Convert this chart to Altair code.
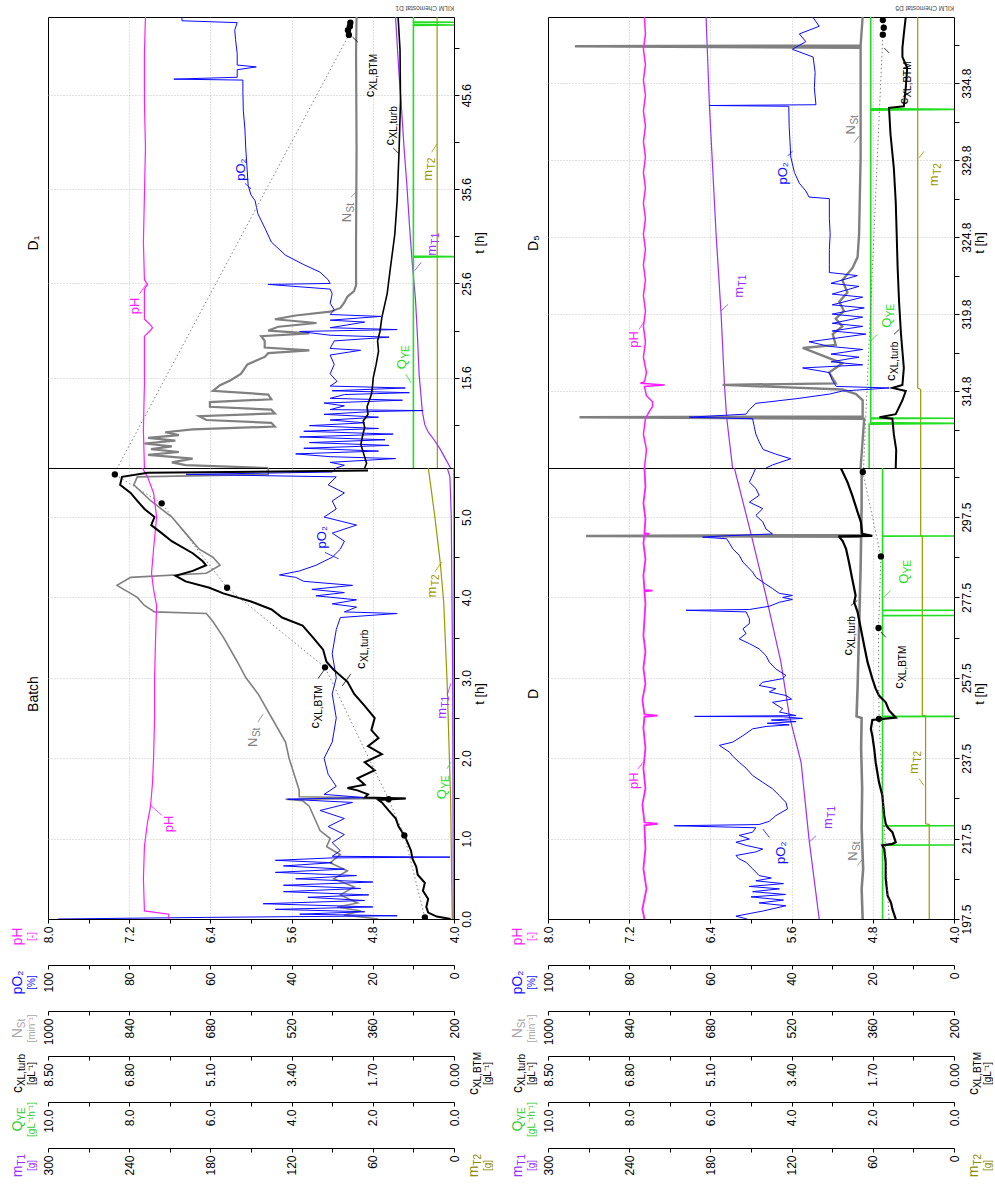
import json
import altair as alt
import pandas as pd

# ------------------------------------------------------------------
# Values: (t [h], value in the series' own unit)
# ------------------------------------------------------------------
# ---- Batch ----
B_PH = [(0.0, 6.81), (0.06, 6.81), (0.1, 7.05), (0.5, 7.06), (0.9, 7.05), (1.2, 7.02), (1.4, 6.99), (1.7, 6.97),
        (2.0, 6.96), (2.5, 6.95), (3.0, 6.95), (3.5, 6.94), (3.9, 6.93), (4.1, 6.96), (4.3, 6.98), (4.6, 6.96),
        (5.0, 6.93), (5.3, 6.96), (5.5, 7.02), (5.61, 7.07)]
B_PO2 = [(0.0, 97.5), (0.02, 61), (0.04, 14), (0.06, 38), (0.09, 22), (0.12, 44), (0.15, 20), (0.19, 47), (0.23, 22),
         (0.27, 36), (0.30, 21), (0.34, 42), (0.38, 23), (0.42, 42), (0.46, 20), (0.50, 39), (0.54, 24), (0.58, 44),
         (0.62, 27), (0.66, 42), (0.70, 30), (0.73, 44), (0.76, 30), (0.77, 1), (0.78, 30), (0.85, 28), (0.95, 30),
         (1.05, 27), (1.15, 31), (1.25, 27), (1.35, 33), (1.45, 25), (1.49, 41), (1.51, 22), (1.55, 32), (1.65, 29),
         (1.8, 31), (2.0, 32), (2.2, 30), (2.5, 29), (2.8, 30), (3.0, 29), (3.3, 30), (3.6, 29), (3.75, 28),
         (3.80, 14), (3.82, 27), (3.88, 24), (3.92, 30), (3.97, 24), (4.02, 34), (4.06, 27), (4.10, 35), (4.15, 25),
         (4.20, 37), (4.25, 39), (4.28, 43), (4.33, 38), (4.4, 34), (4.5, 30), (4.6, 28), (4.7, 27), (4.8, 30),
         (4.9, 24), (5.0, 32), (5.1, 29), (5.2, 30), (5.3, 27), (5.4, 31), (5.5, 29), (5.53, 66), (5.56, 30),
         (5.61, 29)]
B_NST = [(0.0, 349), (0.05, 417), (0.1, 383), (0.15, 430), (0.2, 390), (0.3, 424), (0.4, 397), (0.5, 437),
         (0.6, 410), (0.7, 444), (0.8, 424), (0.9, 451), (1.0, 444), (1.1, 464), (1.2, 471), (1.3, 478), (1.4, 485),
         (1.47, 498), (1.49, 532), (1.5, 295), (1.52, 505), (1.6, 505), (1.8, 515), (2.0, 525), (2.2, 532),
         (2.5, 559), (2.8, 586), (3.0, 610), (3.2, 627), (3.5, 654), (3.7, 675), (3.8, 688), (3.82, 790),
         (3.9, 810), (4.0, 824), (4.05, 837), (4.1, 851), (4.15, 864), (4.25, 837), (4.3, 688), (4.4, 661),
         (4.5, 675), (4.6, 702), (4.8, 729), (5.0, 756), (5.2, 797), (5.4, 831), (5.5, 824), (5.53, 566),
         (5.61, 566)]
B_CXL = [(0.0, 0.07), (0.03, 0.36), (0.08, 0.54), (0.15, 0.58), (0.25, 0.54), (0.35, 0.65), (0.45, 0.61),
         (0.55, 0.76), (0.65, 0.79), (0.75, 0.87), (0.85, 0.90), (0.95, 0.97), (1.05, 1.05), (1.15, 1.16),
         (1.25, 1.22), (1.35, 1.37), (1.45, 1.51), (1.48, 1.58), (1.50, 1.01), (1.51, 1.87), (1.55, 1.80),
         (1.60, 2.02), (1.63, 2.23), (1.67, 1.87), (1.75, 2.02), (1.85, 1.66), (1.95, 1.87), (2.05, 1.51),
         (2.15, 1.80), (2.25, 1.58), (2.35, 1.73), (2.5, 1.66), (2.65, 1.87), (2.8, 2.09), (2.95, 2.23),
         (3.1, 2.52), (3.2, 2.67), (3.35, 2.74), (3.5, 2.95), (3.65, 3.17), (3.75, 3.60), (3.85, 3.82),
         (3.95, 4.25), (4.05, 4.83), (4.12, 5.12), (4.2, 5.62), (4.27, 5.83), (4.33, 5.47), (4.4, 5.19),
         (4.45, 5.26), (4.55, 5.47), (4.7, 5.91), (4.8, 6.12), (4.9, 6.34), (5.0, 6.27), (5.1, 6.48), (5.2, 6.63),
         (5.3, 6.77), (5.4, 6.99), (5.5, 6.95), (5.55, 6.41), (5.58, 1.80)]
B_BTM = [(0.02, 0.61), (1.04, 1.04), (1.49, 1.37), (3.13, 2.70), (4.12, 4.75), (5.17, 6.12), (5.53, 7.10)]
B_BTM_LINE = [(0.02, 0.61), (1.04, 1.04), (1.49, 1.37), (3.13, 2.70), (4.12, 4.75), (5.17, 6.12), (5.53, 7.10)]
B_QYE = [(0.0, 0.0), (5.61, 0.0)]
B_MT1 = [(0.0, 0.5), (3.0, 1.0), (5.0, 2.0), (5.5, 3.0), (5.61, 5.0)]
B_MT2 = [(0.0, 1.3), (1.5, 2.5), (2.95, 5.1), (3.94, 7.6), (4.44, 10.2), (4.98, 14.0), (5.3, 16.5), (5.61, 19.0)]

# ---- D1 ----
D1_PH = [(6.0, 7.05), (10.0, 7.06), (15.0, 7.05), (20.0, 7.05), (20.5, 7.00), (20.9, 6.97), (21.3, 7.00),
         (21.8, 7.05), (25.0, 7.05), (25.5, 7.02), (26.0, 7.05), (30.0, 7.06), (35.0, 7.05), (40.0, 7.04),
         (45.0, 7.05), (50.0, 7.05), (53.9, 7.04)]
D1_PO2 = [(6.0, 29), (6.3, 27), (6.6, 30.5), (7.0, 14.4), (7.2, 30.5), (7.5, 39), (7.8, 18.6), (8.1, 37), (8.4, 16),
          (8.7, 35.6), (9.0, 17), (9.3, 38), (9.6, 15), (9.9, 37), (10.2, 18.6), (10.5, 35.6), (10.8, 22),
          (11.1, 30.5), (11.4, 18.6), (11.7, 32), (12.0, 20), (12.1, 7.6), (12.2, 30.5), (12.6, 27), (12.9, 32),
          (13.2, 12.7), (13.4, 30.5), (13.8, 27), (14.0, 11), (14.2, 30), (14.5, 12), (14.7, 30.5), (15.2, 28.8),
          (16.0, 30.5), (17.0, 29.5), (18.0, 30.5), (18.5, 23), (18.7, 30.5), (19.5, 29.5), (19.9, 16),
          (20.1, 30.5), (20.5, 38), (20.7, 14), (20.9, 30.5), (21.5, 22), (21.7, 30.5), (22.1, 18), (22.3, 30.5),
          (22.8, 29.5), (23.5, 30.5), (24.5, 30), (25.0, 30.5), (25.5, 45.8), (25.6, 30.5), (26.0, 31),
          (26.8, 33), (27.6, 37), (28.6, 41.5), (30.0, 45), (31.5, 46.6), (33.0, 48.3), (34.4, 49), (35.0, 50),
          (36.0, 50.7), (38.0, 51), (40.0, 51.3), (42.0, 51.5), (44.0, 51.9), (46.0, 52), (47.2, 52), (47.3, 69),
          (47.5, 53.4), (48.3, 53.4), (48.6, 48.7), (48.8, 53.4), (50.0, 53.4), (51.5, 53.8), (52.5, 54),
          (53.3, 53.4), (53.5, 67), (53.9, 67)]
D1_NST = [(6.0, 566), (6.3, 729), (6.6, 756), (7.0, 715), (7.4, 803), (7.7, 742), (8.0, 797), (8.3, 756),
          (8.6, 810), (8.9, 749), (9.2, 803), (9.5, 742), (9.8, 769), (10.1, 715), (10.4, 553), (10.8, 560),
          (11.1, 688), (11.5, 702), (11.8, 553), (12.2, 560), (12.5, 681), (13.0, 681), (13.3, 560), (13.8, 566),
          (14.2, 675), (14.8, 661), (15.3, 641), (16.0, 620), (17.0, 607), (17.8, 573), (18.2, 566), (18.5, 485),
          (18.8, 573), (19.5, 573), (20.0, 580), (20.3, 485), (20.6, 566), (21.0, 546), (21.4, 471), (21.8, 553),
          (22.2, 512), (22.6, 444), (23.0, 424), (23.5, 417), (24.2, 410), (24.8, 397), (25.4, 393), (30.0, 393),
          (40.0, 392), (50.0, 393), (53.9, 392)]
D1_CXL = [(6.0, 1.87), (6.5, 1.83), (7.5, 1.89), (8.5, 1.95), (9.5, 1.91), (10.3, 1.87), (11.0, 1.90), (11.7, 1.80),
          (12.5, 1.82), (13.8, 1.73), (14.5, 1.71), (15.6, 1.69), (17.0, 1.63), (18.4, 1.58), (19.5, 1.60),
          (20.5, 1.55), (22.0, 1.51), (24.5, 1.40), (27.3, 1.33), (30.8, 1.24), (34.4, 1.19), (39.7, 1.15),
          (45.0, 1.12), (50.4, 1.13), (53.9, 1.17)]
D1_BTM = [(52.0, 2.20), (52.5, 2.22), (52.9, 2.18), (53.3, 2.17)]
D1_BTM_LINE = [(5.53, 7.10), (52.0, 2.20), (52.5, 2.22), (52.9, 2.18), (53.3, 2.17)]
D1_QYE = [(6.0, 1.0), (28.4, 1.0), (28.45, 0.0), (28.5, 1.0), (53.0, 1.0), (53.05, 0.0), (53.1, 1.0), (53.3, 1.0),
          (53.35, 0.0), (53.4, 1.0), (53.9, 1.0)]
D1_MT1 = [(6.0, 2.5), (7.0, 6.4), (8.0, 10.2), (9.0, 14.7), (9.8, 19.0), (10.6, 21.6), (12.0, 23.4), (14.0, 24.6),
          (16.0, 25.8), (20.0, 27.0), (24.0, 28.5), (28.0, 31.0), (32.0, 33.0), (36.0, 34.8), (40.0, 36.9),
          (44.0, 38.7), (48.0, 40.7), (53.9, 43.2)]
D1_MT2 = [(6.0, 12.3), (30.0, 12.4), (53.9, 12.5)]

# ---- D ----
D_PH = [(197.5, 7.05), (200, 7.07), (205, 7.03), (210, 7.06), (215, 7.04), (220.8, 7.05), (221.2, 6.92),
        (221.5, 7.05), (226, 7.07), (230, 7.04), (235, 7.06), (240, 7.04), (245, 7.06), (247.8, 7.05),
        (248.1, 6.92), (248.4, 7.05), (252, 7.07), (256, 7.04), (260, 7.06), (264, 7.04), (268, 7.06), (272, 7.05),
        (276, 7.04), (279.0, 7.05), (279.2, 6.97), (279.4, 7.05), (283, 7.06), (287, 7.04), (291, 7.06),
        (293.1, 7.05), (293.3, 7.0), (293.5, 7.05), (297, 7.04), (301, 7.06), (305, 7.04), (309.7, 7.05)]
D_PO2 = [(197.5, 51), (198.2, 53.7), (199.5, 47), (200.8, 41.4), (201.5, 48), (202.2, 42), (203, 50), (203.6, 41.5),
         (204.3, 49.6), (205, 43), (205.6, 50.4), (206.3, 42), (207, 48.8), (207.7, 45), (208.3, 48), (210, 49.6),
         (211.6, 51.2), (212.5, 53), (213.3, 53.7), (214.2, 48.8), (214.9, 47.1), (215.8, 51.2), (216.6, 53.7),
         (217.4, 50.4), (218.3, 52.9), (219.1, 49.6), (220.2, 48.8), (220.7, 68.9), (221.0, 48), (221.8, 45.5),
         (223.2, 43.9), (224.9, 41), (226.5, 41.4), (228.2, 43), (229.9, 44.7), (231.5, 47.1), (233.2, 49.6),
         (235, 51.2), (236.5, 52.9), (238, 54.5), (239, 55.3), (240.7, 57.8), (241.5, 54.5), (243.1, 52),
         (244.8, 49.6), (245.4, 46.3), (245.8, 40.6), (246.2, 46), (246.6, 38.9), (247.0, 45), (247.4, 37.3),
         (247.8, 42), (247.9, 63.9), (248.1, 38.9), (249, 43), (249.8, 42.2), (251.4, 44.7), (252.2, 40),
         (253.1, 41.4), (254, 45.5), (254.8, 43.9), (255.6, 48), (256.4, 47.1), (257.3, 42.2), (258.1, 41.4),
         (259.7, 43.9), (261.4, 45.5), (263, 46.3), (264.7, 48), (266, 50.4), (267.2, 52.9), (268.5, 51.2),
         (269.7, 52), (271, 50.4), (272.2, 50.4), (273.9, 51.2), (274.3, 66), (274.5, 50.4), (275.3, 45.5),
         (276.3, 43), (277, 39.8), (277.5, 42.2), (278, 39.8), (278.5, 43), (279.7, 44.7), (281.3, 47.1),
         (282.5, 48.8), (283.8, 49.6), (286.3, 52), (288, 52.9), (289.6, 54.5), (291, 55.3), (292.1, 56),
         (292.5, 61.9), (292.8, 57), (293.3, 44.7), (294.5, 46.3), (296.3, 47.1), (297.9, 48.8), (299.6, 47.1),
         (301.2, 50.4), (302.9, 48), (304.6, 48.8), (306.2, 50.4), (307.9, 49.6), (309.7, 48.8)]
D_NST = [(197.5, 380), (205, 382), (210, 379), (220, 382), (230, 381), (240, 383), (247.5, 382), (247.9, 392),
         (255, 390), (265, 388), (275, 386), (285, 384), (292.6, 383), (292.8, 925), (293.0, 383), (300, 382),
         (309.7, 382)]
D_CXL = [(197.5, 1.22), (200.0, 1.29), (201.6, 1.32), (203.3, 1.39), (207.5, 1.43), (211.6, 1.43), (214.9, 1.46),
         (215.8, 1.50), (216.2, 1.29), (216.6, 1.22), (219.1, 1.29), (220.3, 1.39), (221.2, 1.43), (223.2, 1.46),
         (228.2, 1.50), (231.5, 1.57), (236.5, 1.64), (239.8, 1.67), (243.1, 1.71), (244.8, 1.74), (247.0, 1.71),
         (247.6, 1.22), (248.5, 1.29), (249.4, 1.36), (251.4, 1.43), (253.1, 1.57), (254.8, 1.64), (257.3, 1.71),
         (261.4, 1.81), (265.5, 1.88), (269.7, 1.95), (273.9, 2.02), (276.3, 2.09), (278.0, 2.06), (282.1, 2.13),
         (286.3, 2.20), (289.6, 2.26), (291.5, 2.33), (292.5, 2.40), (292.7, 2.40), (292.8, 1.71), (293.3, 1.92),
         (296.3, 1.95), (298.8, 2.02), (302.9, 2.13), (306.2, 2.23), (309.7, 2.37)]
D_BTM = [(247.3, 1.57), (269.9, 1.58), (287.7, 1.53), (308.7, 1.91)]
D_BTM_LINE = [(197.5, 1.36), (247.3, 1.57), (269.9, 1.58), (287.7, 1.53), (308.7, 1.91)]
D_QYE = [(197.5, 1.76), (215.85, 1.76), (215.9, 0.0), (215.95, 1.76), (220.65, 1.76), (220.7, 0.0), (220.75, 1.76),
         (247.85, 1.76), (247.9, 0.0), (247.95, 1.76), (272.95, 1.76), (273.0, 0.0), (273.05, 1.76),
         (274.25, 1.76), (274.3, 0.0), (274.35, 1.76), (292.75, 1.76), (292.8, 0.0), (292.85, 1.76),
         (309.7, 1.76)]
D_MT1 = [(197.5, 99.6), (217.0, 107.0), (236.5, 113.0), (248.1, 121.7), (261.4, 127.9), (278.0, 139.0),
         (293.3, 150.0), (309.7, 162.3)]
D_MT2 = [(197.5, 18.3), (221.0, 18.3), (221.2, 21.0), (248.0, 21.0), (248.2, 23.4), (292.7, 23.4), (292.9, 24.6),
         (309.7, 24.6)]

# ---- D5 ----
D5_PH = [(309.8, 7.05), (311.0, 7.03), (312.0, 7.06), (313.0, 7.04), (313.5, 7.00), (313.8, 6.97), (314.1, 6.97),
         (314.5, 7.03), (315.1, 7.05), (315.2, 6.85), (315.3, 7.09), (315.4, 7.05), (316.0, 7.03), (317.0, 7.06),
         (318.0, 7.04), (319.0, 7.06), (320.0, 7.04), (321.0, 7.06), (322.0, 7.04), (323.0, 7.06), (324.0, 7.04),
         (325.0, 7.06), (326.0, 7.04), (327.0, 7.06), (328.0, 7.04), (329.0, 7.06), (330.0, 7.04), (331.0, 7.06),
         (332.0, 7.04), (333.0, 7.06), (334.0, 7.04), (335.0, 7.06), (336.0, 7.04), (337.0, 7.06), (338.0, 7.04),
         (339.1, 7.05)]
D5_PO2 = [(309.8, 46.3), (310.0, 44.7), (310.4, 40.2), (310.7, 43.9), (311.0, 47.0), (311.5, 48.0), (312.0, 48.8),
          (312.5, 49.2), (313.0, 49.6), (313.1, 65.2), (313.3, 51.2), (313.6, 50.4), (314.0, 48.8), (314.3, 38.9),
          (314.6, 30.7), (314.8, 27.5), (315.0, 16.0), (315.1, 29.0), (315.5, 30.0), (316.0, 30.7), (316.3, 37.3),
          (316.5, 22.5), (316.7, 30.3), (317.0, 23.4), (317.2, 30.3), (317.5, 22.5), (317.7, 30.7), (318.0, 35.7),
          (318.2, 30.0), (318.5, 21.7), (318.7, 30.0), (319.0, 22.5), (319.2, 30.0), (319.6, 22.5), (319.8, 30.0),
          (320.2, 22.1), (320.4, 30.0), (320.9, 22.5), (321.1, 30.0), (321.6, 23.4), (321.8, 30.3), (322.3, 23.8),
          (322.5, 30.7), (323.0, 30.7), (324.0, 30.7), (325.0, 30.5), (326.0, 30.7), (327.3, 30.7), (327.4, 35.7),
          (327.8, 36.5), (328.3, 38.1), (329.0, 39.3), (330.0, 40.2), (331.0, 40.4), (332.0, 40.6), (333.3, 40.7),
          (333.35, 60.2), (333.4, 34.0), (334.5, 34.4), (335.5, 34.2), (336.5, 34.7), (337.0, 39.8), (337.5, 36.5),
          (338.0, 38.1), (338.5, 33.2), (339.1, 34.8)]
D5_NST = [(309.8, 384), (313.0, 377), (313.1, 938), (313.15, 380), (314.2, 380), (314.6, 393), (314.9, 420),
          (315.2, 656), (315.3, 433), (316.0, 446), (316.6, 420), (317.6, 498), (317.8, 433), (318.5, 439),
          (319.0, 420), (319.5, 433), (320.0, 417), (320.6, 426), (321.2, 410), (322.0, 420), (322.8, 400),
          (323.5, 390), (325.0, 387), (330.0, 384), (337.1, 384), (337.2, 947), (337.25, 384), (339.1, 380)]
D5_CXL = [(309.8, 1.22), (311.0, 1.21), (312.0, 1.26), (313.0, 1.29), (313.1, 1.56), (313.3, 1.22), (314.2, 1.08),
          (314.8, 1.01), (315.0, 1.29), (315.2, 1.08), (316.3, 1.05), (318.5, 1.11), (320.6, 1.15), (322.8, 1.18),
          (325.0, 1.20), (327.1, 1.22), (329.3, 1.26), (331.5, 1.33), (333.2, 1.36), (333.3, 1.05), (334.5, 1.01),
          (335.8, 0.98), (336.5, 1.08), (337.1, 1.08), (338.0, 1.05), (339.1, 1.01)]
D5_BTM = [(337.95, 1.49), (338.4, 1.47), (338.9, 1.49)]
D5_BTM_LINE = [(308.7, 1.91), (337.95, 1.49), (338.4, 1.47), (338.9, 1.49)]
D5_QYE = [(309.8, 2.09), (312.65, 2.09), (312.7, 0.0), (312.75, 2.05), (313.0, 2.05), (313.03, 0.0), (313.06, 2.05),
          (333.05, 2.05), (333.1, 0.0), (333.15, 2.05), (339.1, 2.05)]
D5_MT1 = [(309.8, 163.6), (313.1, 168.0), (315.2, 169.6), (319.8, 172.1), (325.0, 175.8), (333.3, 180.7),
          (339.1, 183.2)]
D5_MT2 = [(309.8, 24.6), (314.9, 24.6), (315.0, 26.8), (339.1, 26.8)]

# ---- in-plot labels: (series, t at label start, position in % of the panel width, 100 = left edge) ----
B_LABELS = [("pH", 1.08, 70.3), ("NSt", 2.14, 49.6), ("cB", 2.37, 34.3), ("cT", 3.11, 22.9), ("pO2", 4.61, 32.6),
            ("QYE", 1.49, 3.0), ("mT1", 2.49, 3.0), ("mT2", 4.0, 5.5)]
B_LEADERS = [("pH", 1.29, 72.0, 1.41, 74.6), ("NSt", 2.45, 48.3, 2.55, 47.0), ("cB", 2.99, 33.5, 3.11, 31.8),
             ("cT", 3.05, 25.4, 2.90, 27.5), ("pO2", 4.56, 31.8, 4.48, 28.4), ("QYE", 1.87, 1.7, 1.95, 0.8),
             ("mT1", 2.78, 1.7, 2.93, 0.8), ("mT2", 4.32, 4.7, 4.44, 3.0)]
D1_LABELS = [("pH", 22.34, 78.6), ("pO2", 36.5, 52.5), ("NSt", 32.09, 26.3), ("cB", 45.39, 20.8),
             ("cT", 40.25, 15.7), ("QYE", 16.49, 12.7), ("mT1", 28.54, 5.5), ("mT2", 36.52, 6.4)]
D1_LEADERS = [("pH", 24.47, 77.5, 25.53, 75.8), ("pO2", 36.24, 51.5, 35.64, 50.0), ("NSt", 34.75, 25.4, 35.28, 24.2),
              ("cB", 51.24, 23.7, 51.77, 25.0), ("cT", 40.0, 15.0, 39.4, 13.6), ("QYE", 15.95, 11.9, 15.07, 10.6),
              ("mT1", 27.83, 8.1, 26.95, 9.7), ("mT2", 39.54, 5.5, 40.42, 4.2)]
D_LABELS = [("pH", 229.86, 78.7), ("pO2", 211.2, 42.6), ("mT1", 219.9, 31.1), ("NSt", 212.0, 25.0),
            ("cT", 263.06, 26.2), ("cB", 254.76, 13.5), ("QYE", 280.9, 12.3), ("mT2", 233.6, 9.8)]
D_LEADERS = [("pH", 234.8, 77.9, 236.5, 76.6), ("pO2", 217.8, 45.5, 219.9, 47.1), ("mT1", 218.2, 34.0, 216.6, 35.7),
             ("NSt", 210.8, 23.8, 212.4, 22.5), ("cT", 275.5, 25.4, 276.75, 23.8), ("cB", 267.6, 16.8, 268.9, 18.0),
             ("QYE", 279.2, 15.6, 277.6, 17.2), ("mT2", 232.4, 8.6, 230.7, 7.4)]
D5_LABELS = [("pH", 317.61, 78.9), ("mT1", 320.86, 52.9), ("pO2", 328.22, 42.2), ("NSt", 331.47, 25.4),
             ("QYE", 318.91, 16.4), ("cT", 315.45, 15.6), ("cB", 333.41, 12.3), ("mT2", 328.11, 4.9)]
D5_LEADERS = [("pH", 318.8, 77.6, 319.35, 76.2), ("mT1", 320.43, 55.7, 320.0, 57.4),
              ("pO2", 330.06, 41.0, 330.38, 39.8), ("NSt", 330.93, 24.6, 331.36, 23.4),
              ("QYE", 318.48, 18.9, 318.05, 20.5), ("cT", 318.48, 14.8, 318.8, 13.5),
              ("cB", 336.77, 16.0, 337.09, 17.2), ("mT2", 329.95, 8.6, 330.38, 7.4)]

# ------------------------------------------------------------------
W = 406
COL = {"pH": "#FF1EFF", "pO2": "#0A0AFF", "NSt": "#808080", "cT": "#000000", "cB": "#000000",
       "QYE": "#22DD22", "mT1": "#9A30FF", "mT2": "#999900"}
SERIES = list(COL.keys())
COLOR = alt.Color("s:N", scale=alt.Scale(domain=SERIES, range=[COL[s] for s in SERIES]), legend=None)
DOM = {"pH": (4.0, 8.0), "pO2": (0, 100), "NSt": (200, 1000), "cXL": (0, 8.5), "QYE": (0, 10), "mT": (0, 300),
       "pct": (0, 100)}
TICKS = {
    "pH": ([round(4.0 + 0.4 * i, 2) for i in range(11)], ".1f"),
    "pO2": ([10 * i for i in range(11)], "d"),
    "NSt": ([200 + 80 * i for i in range(11)], "d"),
    "cXL": ([round(0.85 * i, 2) for i in range(11)], ".2f"),
    "QYE": ([float(i) for i in range(11)], ".1f"),
    "mT": ([30 * i for i in range(11)], "d"),
}
PARTS = {"pH": ("pH", ""), "pO2": ("pO₂", ""), "NSt": ("N", "St"), "cT": ("c", "XL,turb"),
         "cB": ("c", "XL,BTM"), "QYE": ("Q", "YE"), "mT1": ("m", "T1"), "mT2": ("m", "T2")}
GW = {"N": .722, "c": .5, "Q": .778, "m": .833, "S": .667, "t": .278, "X": .667, "L": .556, ",": .278, "u": .556,
      "r": .333, "b": .556, "Y": .667, "E": .667, "T": .611, "1": .556, "2": .556, "B": .667, "M": .833}


def tw(s, size):
    return sum(GW.get(ch, .556) for ch in s) * size


def xs(fam):
    lo, hi = DOM[fam]
    return alt.Scale(domain=[lo, hi], reverse=True, nice=False, zero=False)


def ys(tdom):
    return alt.Scale(domain=list(tdom), nice=False, zero=False)


def frame(pairs):
    return pd.DataFrame({"t": [p[0] for p in pairs], "v": [p[1] for p in pairs], "i": list(range(len(pairs)))})


def value_axis(fam, off):
    vals, fmt = TICKS[fam]
    majors = vals[::2]
    return alt.Axis(orient="bottom", offset=off, values=vals, format=fmt,
                    labelExpr="indexof(%s, datum.value) >= 0 ? datum.label : ''" % json.dumps(majors),
                    labelAngle=270, labelAlign="right", labelBaseline="middle", labelFontSize=12, labelPadding=3,
                    labelFlush=False, labelOverlap=False, labelColor="black", tickSize=4, tickColor="black",
                    domainColor="black", grid=False, title=None)


def time_major(vals):
    return alt.Axis(orient="right", values=vals, format=".1f", labelAngle=270, labelAlign="center",
                    labelBaseline="top", labelFontSize=12, labelPadding=2, labelFlush=False, labelOverlap=False,
                    labelColor="black", tickSize=5, tickColor="black", domain=False, grid=True,
                    gridColor="#b4b4b4", gridDash=[1, 2], gridWidth=0.8, title="t [h]", titleFontSize=13,
                    titleFontWeight="normal", titleAngle=270, titleBaseline="top", titlePadding=1,
                    titleColor="black")


def time_minor(vals):
    return alt.Axis(orient="right", values=vals, labels=False, tickSize=5, tickColor="black", domain=False,
                    grid=False, title=None)


def grid_axis():
    return alt.Axis(orient="bottom", values=[20, 40, 60, 80], labels=False, ticks=False, domain=False, grid=True,
                    gridColor="#b4b4b4", gridDash=[1, 2], gridWidth=0.8, title=None)


def line_layer(pairs, fam, color, tdom, width, xaxis=None, yaxis=None, dash=None):
    props = dict(color=color, strokeWidth=width, clip=True)
    if dash is not None:
        props["strokeDash"] = dash
    return alt.Chart(frame(pairs)).mark_line(**props).encode(
        x=alt.X("v:Q", scale=xs(fam), axis=xaxis),
        y=alt.Y("t:Q", scale=ys(tdom), axis=yaxis),
        order=alt.Order("i:Q"),
    )


def dots_layer(pairs, tdom):
    return alt.Chart(frame(pairs)).mark_circle(size=40, color="black", opacity=1, clip=True).encode(
        x=alt.X("v:Q", scale=xs("cXL"), axis=None),
        y=alt.Y("t:Q", scale=ys(tdom), axis=None),
    )


def leader_layer(leaders, tdom):
    df = pd.DataFrame([dict(s=s, t=a, p=b, t2=c, p2=d) for s, a, b, c, d in leaders])
    return alt.Chart(df).mark_rule(strokeWidth=0.8).encode(
        x=alt.X("p:Q", scale=xs("pct"), axis=None), x2="p2:Q",
        y=alt.Y("t:Q", scale=ys(tdom), axis=None), y2="t2:Q", color=COLOR)


def label_layers(labels, tdom):
    df = pd.DataFrame([dict(s=s, t=t, p=p, main=PARTS[s][0], sub=PARTS[s][1]) for s, t, p in labels])
    out = [alt.Chart(df).mark_text(angle=270, align="left", baseline="middle", fontSize=13).encode(
        x=alt.X("p:Q", scale=xs("pct"), axis=grid_axis()), y=alt.Y("t:Q", scale=ys(tdom), axis=None),
        text="main:N", color=COLOR)]
    for letter in ("N", "c", "Q", "m"):
        sub_df = df[df["main"] == letter]
        if len(sub_df) == 0:
            continue
        out.append(alt.Chart(sub_df).mark_text(angle=270, align="left", baseline="middle", fontSize=10,
                                               dx=tw(letter, 13) + 0.5, dy=4).encode(
            x=alt.X("p:Q", scale=xs("pct"), axis=None), y=alt.Y("t:Q", scale=ys(tdom), axis=None),
            text="sub:N", color=COLOR))
    return out


LEFT_TITLES = [(0, "pH", "pH", "", "[-]"), (46, "pO2", "pO₂", "", "[%]"), (92, "NStT", "N", "St", "[min⁻¹]"),
               (137, "cT", "c", "XL,turb", "[gL⁻¹]"), (183, "QYE", "Q", "YE", "[gL⁻¹h⁻¹]"),
               (229, "mT1", "m", "T1", "[g]")]
RIGHT_TITLES = [(137, "cB", "c", "XL,BTM", "[gL⁻¹]"), (229, "mT2", "m", "T2", "[g]")]
TITLE_COL = {"pH": "#FF1EFF", "pO2": "#1414FF", "NStT": "#A6A6A6", "cT": "#000000", "QYE": "#33CC33",
             "mT1": "#9A30FF", "cB": "#000000", "mT2": "#8C8C00"}


def host(text, off, color, tx, ty, size, align, tdom):
    ax = alt.Axis(orient="bottom", offset=off, domain=False, ticks=False, labels=False, grid=False, title=text,
                  titleColor=color, titleFontSize=size, titleFontWeight="normal", titleAngle=270,
                  titleAlign=align, titleBaseline="alphabetic", titleX=tx, titleY=ty)
    return alt.Chart(pd.DataFrame({"v": [0.0], "t": [tdom[0]]})).mark_point(opacity=0).encode(
        x=alt.X("v:Q", scale=alt.Scale(domain=[0, 1], nice=False), axis=ax),
        y=alt.Y("t:Q", scale=ys(tdom), axis=None))


def panel_name_host(text, tdom):
    # the panel name ("Batch", "D", ...) sits left of the plot, reading upwards
    ax = alt.Axis(orient="left", domain=False, ticks=False, labels=False, grid=False, title=text,
                  titleFontSize=14, titleFontWeight="normal", titleColor="black", titleAngle=270,
                  titleBaseline="bottom", titlePadding=8)
    return alt.Chart(pd.DataFrame({"v": [0.0], "t": [tdom[0]]})).mark_point(opacity=0).encode(
        x=alt.X("v:Q", scale=alt.Scale(domain=[0, 1], nice=False), axis=None),
        y=alt.Y("t:Q", scale=ys(tdom), axis=ax))


def title_hosts(tdom):
    out = []
    for side, rows in (("L", LEFT_TITLES), ("R", RIGHT_TITLES)):
        bx = -27 if side == "L" else W + 23
        for off, key, main, sub, unit in rows:
            c = TITLE_COL[key]
            if sub:
                wm, wsub = tw(main, 14), tw(sub, 10)
                start = 17 + (wm + wsub) / 2
                out.append(host(main, off, c, bx, start, 14, "left", tdom))
                out.append(host(sub, off, c, bx + 3, start - wm, 10, "left", tdom))
            else:
                out.append(host(main, off, c, bx, 17, 14, "center", tdom))
            out.append(host(unit, off, c, bx + 13, 17, 10, "center", tdom))
    return out


def panel(S, tdom, tmaj, tmin, name, labels, leaders, lower, height, lw, stamp=None):
    def ax(fam, off):
        return value_axis(fam, off) if lower else None

    layers = [
        panel_name_host(name, tdom),
        line_layer(S["mT2"], "mT", COL["mT2"], tdom, 1.2),
        line_layer(S["mT1"], "mT", COL["mT1"], tdom, 1.2, xaxis=ax("mT", 229)),
        line_layer(S["QYE"], "QYE", COL["QYE"], tdom, 1.6, xaxis=ax("QYE", 183)),
        line_layer(S["NSt"], "NSt", COL["NSt"], tdom, lw["NSt"], xaxis=ax("NSt", 92)),
        line_layer(S["pO2"], "pO2", COL["pO2"], tdom, 1.0, xaxis=ax("pO2", 46), yaxis=time_minor(tmin)),
        line_layer(S["pH"], "pH", COL["pH"], tdom, lw["pH"], xaxis=ax("pH", 0), yaxis=time_major(tmaj)),
        line_layer(S["cT"], "cXL", COL["cT"], tdom, lw["cT"], xaxis=ax("cXL", 137)),
        line_layer(S["cBL"], "cXL", "#707070", tdom, 0.9, dash=[1.5, 2.5]),
        dots_layer(S["cB"], tdom),
        leader_layer(leaders, tdom),
    ] + label_layers(labels, tdom)
    if lower:
        layers += title_hosts(tdom)
    kw = {}
    if stamp:
        kw["title"] = alt.TitleParams(stamp, orient="top", anchor="end", frame="group", angle=180, align="left",
                                      baseline="top", fontSize=6.5, fontWeight="normal", color="#444444",
                                      offset=0)
    return alt.layer(*layers, **kw).resolve_scale(x="independent", y="independent").properties(
        width=W, height=height)


up_left = panel(dict(pH=D1_PH, pO2=D1_PO2, NSt=D1_NST, cT=D1_CXL, cB=D1_BTM, cBL=D1_BTM_LINE, QYE=D1_QYE,
                     mT1=D1_MT1, mT2=D1_MT2), (6.0, 53.9), [15.6, 25.6, 35.6, 45.6], [10.6, 20.6, 30.6, 40.6, 50.6],
                "D₁", D1_LABELS, D1_LEADERS, False, 451, dict(pH=1.2, NSt=2.2, cT=1.6),
                stamp="KILM Chemostat D1")
lo_left = panel(dict(pH=B_PH, pO2=B_PO2, NSt=B_NST, cT=B_CXL, cB=B_BTM, cBL=B_BTM_LINE, QYE=B_QYE,
                     mT1=B_MT1, mT2=B_MT2), (0.0, 5.61), [0, 1, 2, 3, 4, 5], [0.5, 1.5, 2.5, 3.5, 4.5, 5.5],
                "Batch", B_LABELS, B_LEADERS, True, 451, dict(pH=1.2, NSt=1.6, cT=2.0))
up_right = panel(dict(pH=D5_PH, pO2=D5_PO2, NSt=D5_NST, cT=D5_CXL, cB=D5_BTM, cBL=D5_BTM_LINE, QYE=D5_QYE,
                      mT1=D5_MT1, mT2=D5_MT2), (309.8, 339.1), [314.8, 319.8, 324.8, 329.8, 334.8],
                 [312.3, 317.3, 322.3, 327.3, 332.3, 337.3], "D₅", D5_LABELS, D5_LEADERS, False, 451,
                 dict(pH=1.5, NSt=2.4, cT=2.0), stamp="KILM Chemostat D5")
lo_right = panel(dict(pH=D_PH, pO2=D_PO2, NSt=D_NST, cT=D_CXL, cB=D_BTM, cBL=D_BTM_LINE, QYE=D_QYE,
                      mT1=D_MT1, mT2=D_MT2), (197.5, 309.7), [197.5, 217.5, 237.5, 257.5, 277.5, 297.5],
                 [207.5, 227.5, 247.5, 267.5, 287.5, 307.5], "D", D_LABELS, D_LEADERS, True, 451,
                 dict(pH=1.8, NSt=2.6, cT=2.2))

left = alt.vconcat(up_left, lo_left, spacing=0, bounds="flush")
right = alt.vconcat(up_right, lo_right, spacing=0, bounds="flush")

chart = alt.hconcat(left, right, spacing=16).properties(
    padding={"left": 9, "top": 3, "right": 0, "bottom": 0})
chart = chart.configure(font="Liberation Sans").configure_view(stroke="black", strokeWidth=1)
chart.save("out.html", embed_options={"renderer": "svg", "actions": False})
